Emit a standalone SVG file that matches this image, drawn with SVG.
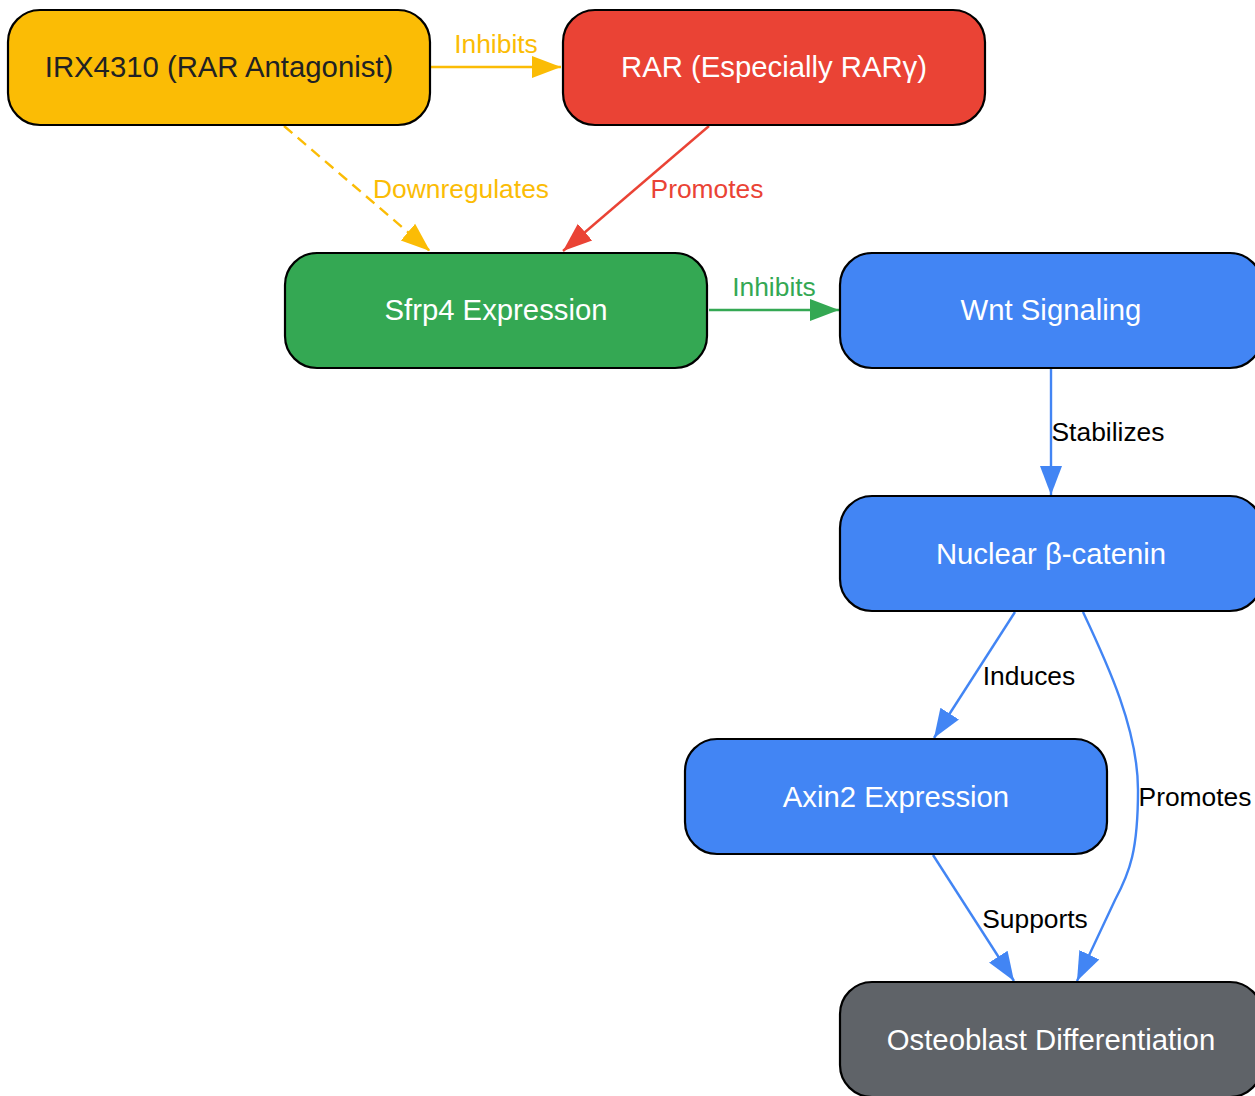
<svg xmlns="http://www.w3.org/2000/svg" width="1255" height="1096" viewBox="0 0 1255 1096">
<style>
.node rect{stroke:#000;stroke-width:2.2}
.nt{font-family:"Liberation Sans",Arial,sans-serif;font-size:29.3px;text-anchor:middle;fill:#fff}
.el{font-family:"Liberation Sans",Arial,sans-serif;font-size:26.4px;text-anchor:middle}
.e{fill:none;stroke-width:2.4}
</style>
<defs>
<marker id="ay" markerUnits="userSpaceOnUse" markerWidth="30" markerHeight="24" refX="29" refY="12" orient="auto"><path d="M0,1 L29,12 L0,23 z" fill="#FBBC05"/></marker>
<marker id="ar" markerUnits="userSpaceOnUse" markerWidth="30" markerHeight="24" refX="29" refY="12" orient="auto"><path d="M0,1 L29,12 L0,23 z" fill="#EA4335"/></marker>
<marker id="ag" markerUnits="userSpaceOnUse" markerWidth="30" markerHeight="24" refX="29" refY="12" orient="auto"><path d="M0,1 L29,12 L0,23 z" fill="#34A853"/></marker>
<marker id="ab" markerUnits="userSpaceOnUse" markerWidth="30" markerHeight="24" refX="29" refY="12" orient="auto"><path d="M0,1 L29,12 L0,23 z" fill="#4285F4"/></marker>
</defs>
<rect width="1255" height="1096" fill="#fff"/>
<g id="connectors">
<line class="e" x1="431" y1="67" x2="561" y2="67" stroke="#FBBC05" marker-end="url(#ay)"/>
<line class="e" x1="284" y1="126" x2="430" y2="251" stroke="#FBBC05" stroke-dasharray="11,7" marker-end="url(#ay)"/>
<line class="e" x1="709" y1="126" x2="563" y2="251" stroke="#EA4335" marker-end="url(#ar)"/>
<line class="e" x1="709" y1="310" x2="839" y2="310" stroke="#34A853" marker-end="url(#ag)"/>
<line class="e" x1="1051" y1="369" x2="1051" y2="495" stroke="#4285F4" marker-end="url(#ab)"/>
<line class="e" x1="1015" y1="612" x2="934" y2="738" stroke="#4285F4" marker-end="url(#ab)"/>
<path class="e" d="M1083,612 C1108,665 1138,730 1138,790 C1138,850 1130,872 1115,900 L1077,981" stroke="#4285F4" marker-end="url(#ab)"/>
<line class="e" x1="933" y1="855" x2="1014" y2="981" stroke="#4285F4" marker-end="url(#ab)"/>
<text class="el" x="496" y="53" fill="#FBBC05">Inhibits</text>
<text class="el" x="461" y="198" fill="#FBBC05">Downregulates</text>
<text class="el" x="707" y="198" fill="#EA4335">Promotes</text>
<text class="el" x="774" y="296" fill="#34A853">Inhibits</text>
<text class="el" x="1108" y="441" fill="#000">Stabilizes</text>
<text class="el" x="1029" y="685" fill="#000">Induces</text>
<text class="el" x="1195" y="806" fill="#000">Promotes</text>
<text class="el" x="1035" y="928" fill="#000">Supports</text>
</g>
<g id="irx" class="node"><rect x="8" y="10" width="422" height="115" rx="32" fill="#FBBC05"/><text class="nt" x="219" y="77" style="fill:#202124">IRX4310 (RAR Antagonist)</text></g>
<g id="rar" class="node"><rect x="563" y="10" width="422" height="115" rx="32" fill="#EA4335"/><text class="nt" x="774" y="77">RAR (Especially RARγ)</text></g>
<g id="sfrp4" class="node"><rect x="285" y="253" width="422" height="115" rx="32" fill="#34A853"/><text class="nt" x="496" y="320">Sfrp4 Expression</text></g>
<g id="wnt" class="node"><rect x="840" y="253" width="422" height="115" rx="32" fill="#4285F4"/><text class="nt" x="1051" y="320">Wnt Signaling</text></g>
<g id="bcat" class="node"><rect x="840" y="496" width="422" height="115" rx="32" fill="#4285F4"/><text class="nt" x="1051" y="564">Nuclear β-catenin</text></g>
<g id="axin2" class="node"><rect x="685" y="739" width="422" height="115" rx="32" fill="#4285F4"/><text class="nt" x="896" y="807">Axin2 Expression</text></g>
<g id="osteo" class="node"><rect x="840" y="982" width="422" height="115" rx="32" fill="#5F6368"/><text class="nt" x="1051" y="1050">Osteoblast Differentiation</text></g>
</svg>
